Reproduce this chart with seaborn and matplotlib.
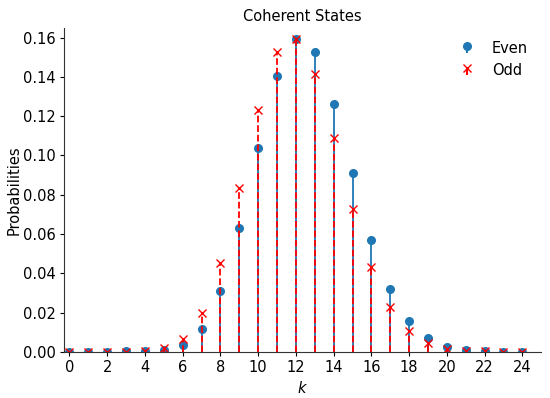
import numpy as np
import seaborn as sns
import matplotlib.pyplot as plt

# photon-number probabilities
k = list(range(25))
even_probs = [0.0, 0.0, 0.0001, 0.0002, 0.0004, 0.0008, 0.0033, 0.0118, 0.0308, 0.0632,
              0.1038, 0.1406, 0.1593, 0.1527, 0.1264, 0.0909, 0.0572, 0.0319, 0.0158, 0.0068,
              0.0027, 0.0010, 0.0003, 0.0001, 0.00005]
odd_probs = [0.0, 0.0, 0.0, 0.0001, 0.0004, 0.0017, 0.0066, 0.0198, 0.0452, 0.0832,
             0.1233, 0.1527, 0.1593, 0.1417, 0.1088, 0.0729, 0.0433, 0.0226, 0.0104, 0.0043,
             0.0014, 0.0006, 0.0002, 0.0001, 0.00003]

sns.set_theme(style="ticks", rc={
    "axes.edgecolor": "#333333",
    "axes.linewidth": 0.8,
    "text.color": "black",
    "axes.labelcolor": "black",
    "xtick.color": "black",
    "ytick.color": "black",
    "xtick.major.size": 3.0,
    "ytick.major.size": 3.0,
    "xtick.major.width": 0.8,
    "ytick.major.width": 0.8,
    "xtick.major.pad": 3.0,
    "ytick.major.pad": 3.0,
    "axes.labelpad": 3.5,
    "axes.titlepad": 5.0,
    "font.size": 10.5,
    "axes.labelsize": 10.5,
    "axes.titlesize": 10.5,
    "xtick.labelsize": 10.5,
    "ytick.labelsize": 10.5,
    "legend.fontsize": 10.5,
})
plt.rcParams['font.family'] = ['DejaVu Sans']

fig, ax = plt.subplots(figsize=(5.5, 3.98), dpi=100)

blue = sns.color_palette("tab10")[0]
ev = ax.stem(k, even_probs, linefmt='-', markerfmt='o', basefmt=' ', label='Even')
plt.setp(ev.stemlines, color=blue, linewidth=1.3)
plt.setp(ev.markerline, color=blue, markersize=5.5)

od = ax.stem(k, odd_probs, linefmt='--', markerfmt='x', basefmt=' ', label='Odd')
plt.setp(od.stemlines, color='red', linewidth=1.3)
plt.setp(od.markerline, color='red', markersize=5.5)

ax.set_xlim(-0.3, 25)
ax.set_ylim(0, 0.165)
ax.set_xticks(range(0, 25, 2))
ax.set_yticks(np.arange(0, 0.161, 0.02))
ax.set_title('Coherent States')
ax.set_xlabel('$k$')
ax.set_ylabel('Probabilities', labelpad=0.5)
ax.legend(loc='upper right', frameon=False, handlelength=1.4, handletextpad=1.0)
sns.despine(ax=ax)

fig.subplots_adjust(left=0.116, right=0.984, top=0.93, bottom=0.116)
fig.savefig('out.png', dpi=100)
